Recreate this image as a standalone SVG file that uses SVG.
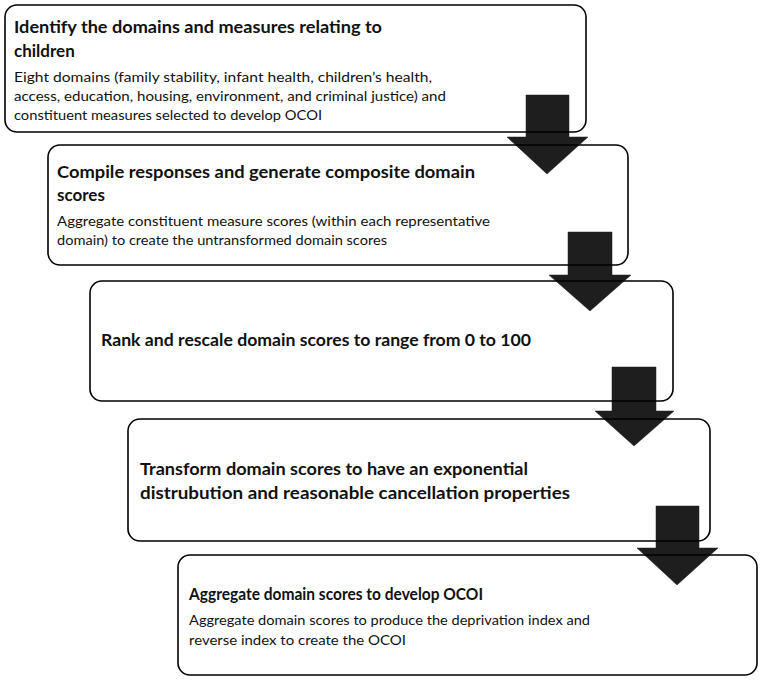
<svg xmlns="http://www.w3.org/2000/svg" width="765" height="681" viewBox="0 0 765 681">
<style>
.box{fill:none;stroke:#000;stroke-width:1.6}
.arrow{fill:#1e1e1e;stroke:#1e1e1e;stroke-width:0.5}
.t{font-family:Lato,"Open Sans","Liberation Sans",sans-serif;font-weight:bold;font-size:17px;fill:#111}
.b{font-family:Lato,"Open Sans","Liberation Sans",sans-serif;font-size:14px;fill:#111}
</style>
<rect width="765" height="681" fill="#fff"/>
<g id="connectors">
<polygon class="arrow" points="526,95 569,95 569,137 588,137 547,174 507,137 526,137"/>
<polygon class="arrow" points="568,232 612,232 612,275 631,275 590,311 549,275 568,275"/>
<polygon class="arrow" points="612,367 656,367 656,411 674,411 634,446 595,411 612,411"/>
<polygon class="arrow" points="656,506 699,506 699,548 718,548 677,585 637,548 656,548"/>
</g>
<g id="node1">
<rect class="box" x="5" y="5" width="581" height="127" rx="12"/>
<text class="t" x="14" y="33" textLength="368" lengthAdjust="spacingAndGlyphs">Identify the domains and measures relating to</text>
<text class="t" x="14" y="57">children</text>
<text class="b" x="14" y="82" textLength="418" lengthAdjust="spacingAndGlyphs">Eight domains (family stability, infant health, children’s health,</text>
<text class="b" x="14" y="101" textLength="432" lengthAdjust="spacingAndGlyphs">access, education, housing, environment, and criminal justice) and</text>
<text class="b" x="14" y="120" textLength="308" lengthAdjust="spacingAndGlyphs">constituent measures selected to develop OCOI</text>
</g>
<g id="node2">
<rect class="box" x="48" y="145" width="580" height="120" rx="12"/>
<text class="t" x="57" y="178" textLength="418" lengthAdjust="spacingAndGlyphs">Compile responses and generate composite domain</text>
<text class="t" x="57" y="201">scores</text>
<text class="b" x="57" y="226" textLength="433" lengthAdjust="spacingAndGlyphs">Aggregate constituent measure scores (within each representative</text>
<text class="b" x="57" y="245" textLength="330" lengthAdjust="spacingAndGlyphs">domain) to create the untransformed domain scores</text>
</g>
<g id="node3">
<rect class="box" x="90" y="281" width="583" height="120" rx="12"/>
<text class="t" x="101" y="346" textLength="430" lengthAdjust="spacingAndGlyphs">Rank and rescale domain scores to range from 0 to 100</text>
</g>
<g id="node4">
<rect class="box" x="128" y="419" width="582" height="122" rx="12"/>
<text class="t" x="140" y="475" textLength="388" lengthAdjust="spacingAndGlyphs">Transform domain scores to have an exponential</text>
<text class="t" x="140" y="499" textLength="430" lengthAdjust="spacingAndGlyphs">distrubution and reasonable cancellation properties</text>
</g>
<g id="node5">
<rect class="box" x="178" y="555" width="579" height="120" rx="12"/>
<text class="t" x="189" y="600" textLength="294" lengthAdjust="spacingAndGlyphs">Aggregate domain scores to develop OCOI</text>
<text class="b" x="189" y="625" textLength="401" lengthAdjust="spacingAndGlyphs">Aggregate domain scores to produce the deprivation index and</text>
<text class="b" x="189" y="645" textLength="217" lengthAdjust="spacingAndGlyphs">reverse index to create the OCOI</text>
</g>
</svg>
